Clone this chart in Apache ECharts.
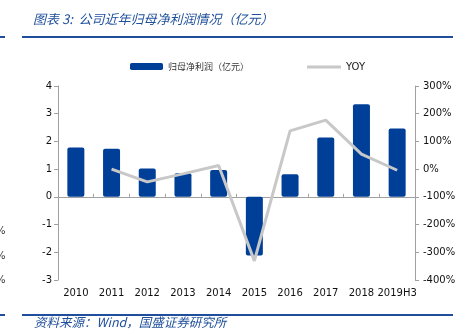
<!DOCTYPE html>
<html><head><meta charset="utf-8">
<script src="https://cdn.jsdelivr.net/npm/echarts@6/dist/echarts.min.js"></script>
<style>html,body{margin:0;padding:0;background:#fff}#c{width:471px;height:335px}</style>
</head><body><div id="c"></div>
<script>
const categories = ['2010','2011','2012','2013','2014','2015','2016','2017','2018','2019H3'];
const profit = [1.78, 1.74, 1.02, 0.85, 0.97, -2.12, 0.82, 2.14, 3.34, 2.47];
const yoy = [null, 0, -46, -17, 13, -331, 138, 177, 54, -4];
const leftTicks = {min: -3, max: 4, interval: 1};
const rightTicks = {min: -400, max: 300, interval: 100};
const barName = '归母净利润（亿元）';
const lineName = 'YOY';
const titleText = '图表 3:  公司近年归母净利润情况（亿元）';
const sourceText = '资料来源：Wind，国盛证券研究所';

const chart = echarts.init(document.getElementById('c'), null, {renderer: 'canvas'});
const blue = '#1f4f9c';
const axisColor = '#a0a0a0';
const font = 'DejaVu Sans';
chart.setOption({
  animation: false,
  grid: {left: 58, right: 56, top: 86, bottom: 55},
  legend: [
    {data: [barName], left: 125, top: 57, itemWidth: 33, itemHeight: 7, itemGap: 4,
     textStyle: {fontSize: 9, color: '#333', fontFamily: 'Noto Sans CJK SC'}},
    {data: [{name: lineName, icon: 'rect'}], left: 302, top: 57, itemWidth: 34, itemHeight: 3,
     textStyle: {fontSize: 10, color: '#222', fontFamily: font}}
  ],
  xAxis: {
    type: 'category', data: categories,
    axisLine: {onZero: true, lineStyle: {color: axisColor, width: 1}},
    axisTick: {show: true, inside: true, length: 3, lineStyle: {color: axisColor}},
    axisLabel: {fontSize: 10, color: '#111', fontFamily: font, margin: 8, interval: 0}
  },
  yAxis: [
    {type: 'value', min: leftTicks.min, max: leftTicks.max, interval: leftTicks.interval,
     splitLine: {show: false},
     axisLine: {show: true, lineStyle: {color: axisColor}},
     axisTick: {show: true, length: 4, lineStyle: {color: axisColor}},
     axisLabel: {fontSize: 10, color: '#111', fontFamily: font, margin: 6}},
    {type: 'value', min: rightTicks.min, max: rightTicks.max, interval: rightTicks.interval,
     position: 'right', splitLine: {show: false},
     axisLine: {show: true, lineStyle: {color: axisColor}},
     axisTick: {show: true, length: 4, lineStyle: {color: axisColor}},
     axisLabel: {fontSize: 10, color: '#111', fontFamily: font, margin: 8, formatter: '{value}%'}}
  ],
  series: [
    {name: barName, type: 'bar', data: profit, barWidth: 17, yAxisIndex: 0,
     itemStyle: {color: '#003f98', borderRadius: 2}},
    {name: lineName, type: 'line', data: yoy, yAxisIndex: 1, symbol: 'none',
     lineStyle: {color: '#c8c8c8', width: 3}, itemStyle: {color: '#c8c8c8'}, z: 3}
  ],
  graphic: [
    {type: 'text', left: 33, top: 13, style: {text: titleText, fill: blue,
      font: 'italic 13px "Noto Sans CJK SC"'}},
    {type: 'rect', shape: {x: 22, y: 36, width: 431, height: 2}, style: {fill: blue}},
    {type: 'rect', shape: {x: 0, y: 36, width: 5, height: 2}, style: {fill: blue}},
    {type: 'rect', shape: {x: 22, y: 314, width: 431, height: 2}, style: {fill: blue}},
    {type: 'rect', shape: {x: 0, y: 314, width: 5, height: 2}, style: {fill: blue}},
    {type: 'text', left: 34, top: 316, style: {text: sourceText, fill: blue,
      font: 'italic 12.5px "Noto Sans CJK SC"'}},
    {type: 'text', x: -4, y: 226, style: {text: '%', fill: '#333', font: '10px "DejaVu Sans"'}},
    {type: 'text', x: -4, y: 251, style: {text: '%', fill: '#333', font: '10px "DejaVu Sans"'}},
    {type: 'text', x: -4, y: 275, style: {text: '%', fill: '#333', font: '10px "DejaVu Sans"'}}
  ]
});
</script></body></html>
